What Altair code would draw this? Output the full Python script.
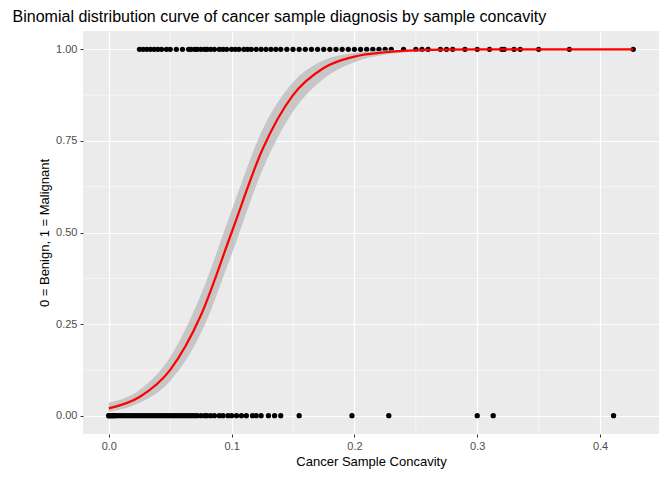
import altair as alt
import pandas as pd

# observed samples (concavity) by diagnosis
benign_x = [0.0, 0.0, 0.001, 0.002, 0.003, 0.004, 0.005, 0.006, 0.008, 0.01, 0.012, 0.014,
            0.016, 0.018, 0.02, 0.022, 0.024, 0.026, 0.028, 0.03, 0.032, 0.034, 0.036, 0.038,
            0.04, 0.042, 0.044, 0.046, 0.048, 0.05, 0.052, 0.054, 0.056, 0.058, 0.06, 0.062,
            0.064, 0.066, 0.068, 0.07, 0.072, 0.075, 0.078, 0.08, 0.083, 0.086, 0.09, 0.093,
            0.097, 0.1, 0.104, 0.108, 0.112, 0.117, 0.12, 0.124, 0.13, 0.135, 0.14, 0.155,
            0.198, 0.228, 0.30, 0.313, 0.411]
malignant_x = [0.025, 0.028, 0.031, 0.034, 0.037, 0.04, 0.043, 0.047, 0.05, 0.055, 0.06, 0.065,
               0.067, 0.07, 0.072, 0.075, 0.078, 0.08, 0.083, 0.086, 0.09, 0.093, 0.096, 0.1,
               0.103, 0.106, 0.11, 0.113, 0.116, 0.12, 0.124, 0.128, 0.132, 0.136, 0.14, 0.145,
               0.15, 0.155, 0.16, 0.165, 0.17, 0.175, 0.18, 0.185, 0.19, 0.195, 0.2, 0.205,
               0.21, 0.215, 0.22, 0.225, 0.23, 0.24, 0.25, 0.255, 0.26, 0.27, 0.275, 0.28,
               0.29, 0.30, 0.31, 0.32, 0.322, 0.33, 0.335, 0.35, 0.375, 0.427]

# fitted curve and confidence band
fit_x = [0.0, 0.025, 0.05, 0.075, 0.1, 0.125, 0.15, 0.175, 0.2, 0.225, 0.25, 0.3, 0.35, 0.427]
fit_p = [0.02, 0.051, 0.125, 0.274, 0.5, 0.726, 0.875, 0.949, 0.98, 0.992, 0.997, 0.9996, 1.0, 1.0]
fit_lo = [0.01, 0.035, 0.095, 0.225, 0.44, 0.67, 0.83, 0.92, 0.965, 0.985, 0.994, 0.999, 1.0, 1.0]
fit_hi = [0.035, 0.07, 0.16, 0.33, 0.56, 0.78, 0.91, 0.97, 0.99, 0.997, 0.999, 1.0, 1.0, 1.0]

minor_x = [0.05, 0.15, 0.25, 0.35]
minor_y = [0.125, 0.375, 0.625, 0.875]

pts = pd.DataFrame({
    "x": benign_x + malignant_x,
    "y": [0] * len(benign_x) + [1] * len(malignant_x),
})
fit = pd.DataFrame({"x": fit_x, "p": fit_p, "lo": fit_lo, "hi": fit_hi})

xs = alt.Scale(domain=[-0.021, 0.448], nice=False, zero=False)
ys = alt.Scale(domain=[-0.05, 1.05], nice=False)

xax = alt.Axis(values=[0, 0.1, 0.2, 0.3, 0.4], format=".1f", title="Cancer Sample Concavity")
yax = alt.Axis(values=[0, 0.25, 0.5, 0.75, 1.0], format=".2f", title="0 = Benign, 1 = Malignant")

vminor = alt.Chart(pd.DataFrame({"x": minor_x})).mark_rule(color="white", strokeWidth=0.6).encode(
    x=alt.X("x:Q", scale=xs))
hminor = alt.Chart(pd.DataFrame({"y": minor_y})).mark_rule(color="white", strokeWidth=0.6).encode(
    y=alt.Y("y:Q", scale=ys))

points = alt.Chart(pts).mark_circle(color="black", opacity=1, size=28).encode(
    x=alt.X("x:Q", scale=xs, axis=xax),
    y=alt.Y("y:Q", scale=ys, axis=yax),
)
band = alt.Chart(fit).mark_area(color="#c6c6c6", opacity=1, interpolate="monotone").encode(
    x=alt.X("x:Q", scale=xs), y=alt.Y("lo:Q", scale=ys), y2="hi:Q")
line = alt.Chart(fit).mark_line(color="red", strokeWidth=2.2, interpolate="monotone").encode(
    x=alt.X("x:Q", scale=xs), y=alt.Y("p:Q", scale=ys))

chart = alt.layer(vminor, hminor, points, band, line).properties(
    width=654, height=462,
    autosize=alt.AutoSizeParams(type="fit", contains="padding"),
    title=alt.TitleParams("Binomial distribution curve of cancer sample diagnosis by sample concavity",
                          anchor="start", fontSize=16, fontWeight="normal", font="Liberation Sans",
                          color="black", offset=6, dx=-26),
    padding={"left": 4, "top": 0, "right": 2, "bottom": 2},
).configure_view(fill="#EBEBEB", stroke=None).configure_axis(
    gridColor="white", gridWidth=1.2, domain=False, tickColor="#333333", tickSize=3,
    labelColor="#4d4d4d", labelFont="Liberation Sans", labelFontSize=11,
    titleFont="Liberation Sans", titleFontSize=13, titleFontWeight="normal", titleColor="black",
    labelPadding=3, titlePadding=4,
)

chart.save("out.html", embed_options={"renderer": "svg", "actions": False})
